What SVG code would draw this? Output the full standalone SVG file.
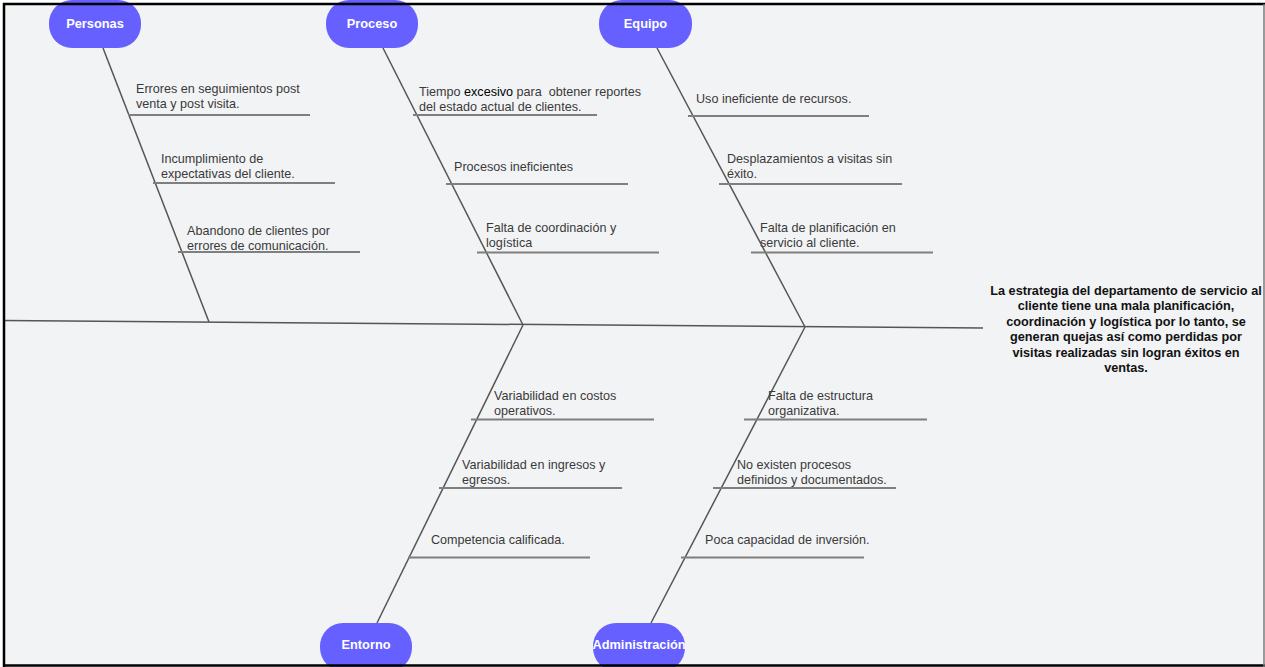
<svg xmlns="http://www.w3.org/2000/svg" width="1265" height="667" viewBox="0 0 1265 667">
<style>
.bg{fill:#f2f3f5}
.node rect{fill:#6560ff}
.node text{fill:#ffffff;font-family:"Liberation Sans",Arial,sans-serif;font-size:12.8px;font-weight:bold;text-anchor:middle}
.bone{stroke:#555555;stroke-width:1.5;fill:none}
.sub{stroke:#7f7f7f;stroke-width:2;fill:none}
.lbl{fill:#3a3a3a;font-family:"Liberation Sans",Arial,sans-serif;font-size:12.6px;white-space:pre}
.effect{fill:#111111;font-family:"Liberation Sans",Arial,sans-serif;font-size:12.7px;font-weight:bold;text-anchor:middle}
</style>
<rect x="0" y="0" width="1265" height="667" fill="#ffffff"/>
<rect class="bg" x="4" y="4" width="1260" height="661"/>
<g id="connectors">
<line class="bone" x1="4" y1="320.5" x2="983" y2="328"/>
<line class="bone" x1="103" y1="48" x2="209" y2="322"/>
<line class="bone" x1="383" y1="48" x2="523" y2="325"/>
<line class="bone" x1="657" y1="48" x2="805" y2="327"/>
<line class="bone" x1="523" y1="325" x2="377" y2="623"/>
<line class="bone" x1="805" y1="327" x2="651" y2="623"/>
<line class="sub" x1="128" y1="115" x2="310" y2="115"/>
<line class="sub" x1="153" y1="183" x2="335" y2="183"/>
<line class="sub" x1="178" y1="252" x2="360" y2="252"/>
<line class="sub" x1="413" y1="115" x2="597" y2="115"/>
<line class="sub" x1="446" y1="184" x2="628" y2="184"/>
<line class="sub" x1="477" y1="252.5" x2="659" y2="252.5"/>
<line class="sub" x1="688" y1="116" x2="869" y2="116"/>
<line class="sub" x1="719" y1="184" x2="902" y2="184"/>
<line class="sub" x1="751" y1="252.5" x2="933" y2="252.5"/>
<line class="sub" x1="471" y1="419.5" x2="654" y2="419.5"/>
<line class="sub" x1="439" y1="488" x2="622" y2="488"/>
<line class="sub" x1="408" y1="557.5" x2="590" y2="557.5"/>
<line class="sub" x1="744" y1="419.5" x2="927" y2="419.5"/>
<line class="sub" x1="713" y1="488" x2="896" y2="488"/>
<line class="sub" x1="681" y1="557.5" x2="864" y2="557.5"/>
</g>
<g id="labels">
<text class="lbl" x="136" y="93">Errores en seguimientos post</text>
<text class="lbl" x="136" y="108">venta y post visita.</text>
<text class="lbl" x="161" y="163">Incumplimiento de</text>
<text class="lbl" x="161" y="178">expectativas del cliente.</text>
<text class="lbl" x="187" y="235">Abandono de clientes por</text>
<text class="lbl" x="187" y="250">errores de comunicación.</text>
<text class="lbl" x="419" y="96" xml:space="preserve">Tiempo <tspan fill="#000000">excesivo</tspan> para  obtener reportes</text>
<text class="lbl" x="419" y="111">del estado actual de clientes.</text>
<text class="lbl" x="454" y="171">Procesos ineficientes</text>
<text class="lbl" x="486" y="231.5">Falta de coordinación y</text>
<text class="lbl" x="486" y="246.5">logística</text>
<text class="lbl" x="696" y="103">Uso ineficiente de recursos.</text>
<text class="lbl" x="727" y="162.5">Desplazamientos a visitas sin</text>
<text class="lbl" x="727" y="177.5">éxito.</text>
<text class="lbl" x="760" y="231.5">Falta de planificación en</text>
<text class="lbl" x="760" y="246.5">servicio al cliente.</text>
<text class="lbl" x="494" y="400">Variabilidad en costos</text>
<text class="lbl" x="494" y="415">operativos.</text>
<text class="lbl" x="462" y="469">Variabilidad en ingresos y</text>
<text class="lbl" x="462" y="484">egresos.</text>
<text class="lbl" x="431" y="544">Competencia calificada.</text>
<text class="lbl" x="768" y="400">Falta de estructura</text>
<text class="lbl" x="768" y="415">organizativa.</text>
<text class="lbl" x="737" y="469">No existen procesos</text>
<text class="lbl" x="737" y="484">definidos y documentados.</text>
<text class="lbl" x="705" y="544">Poca capacidad de inversión.</text>
</g>
<g id="effect">
<text class="effect" x="1126" y="294.5">La estrategia del departamento de servicio al</text>
<text class="effect" x="1126" y="310">cliente tiene una mala planificación,</text>
<text class="effect" x="1126" y="325.5">coordinación y logística por lo tanto, se</text>
<text class="effect" x="1126" y="341">generan quejas así como perdidas por</text>
<text class="effect" x="1126" y="356.5">visitas realizadas sin logran éxitos en</text>
<text class="effect" x="1126" y="372">ventas.</text>
</g>
<g id="node-personas" class="node"><rect x="49" y="0" width="92" height="48" rx="23"/><text x="95" y="28">Personas</text></g>
<g id="node-proceso" class="node"><rect x="326" y="0" width="92" height="48" rx="23"/><text x="372" y="28">Proceso</text></g>
<g id="node-equipo" class="node"><rect x="599" y="0" width="93" height="48" rx="23"/><text x="645.5" y="28">Equipo</text></g>
<g id="node-entorno" class="node"><rect x="320" y="623" width="92" height="48" rx="23"/><text x="366" y="649">Entorno</text></g>
<g id="node-administracion" class="node"><rect x="593" y="623" width="92" height="48" rx="23"/><text x="639" y="649">Administración</text></g>
<g id="frame">
<line x1="3" y1="4" x2="1265" y2="4" stroke="#000000" stroke-width="2.5"/>
<line x1="4" y1="3" x2="4" y2="667" stroke="#000000" stroke-width="2.5"/>
<line x1="3" y1="665.5" x2="1265" y2="665.5" stroke="#000000" stroke-width="2.5"/>
<line x1="1264" y1="4" x2="1264" y2="667" stroke="#7a7a7a" stroke-width="1.5"/>
</g>
</svg>
